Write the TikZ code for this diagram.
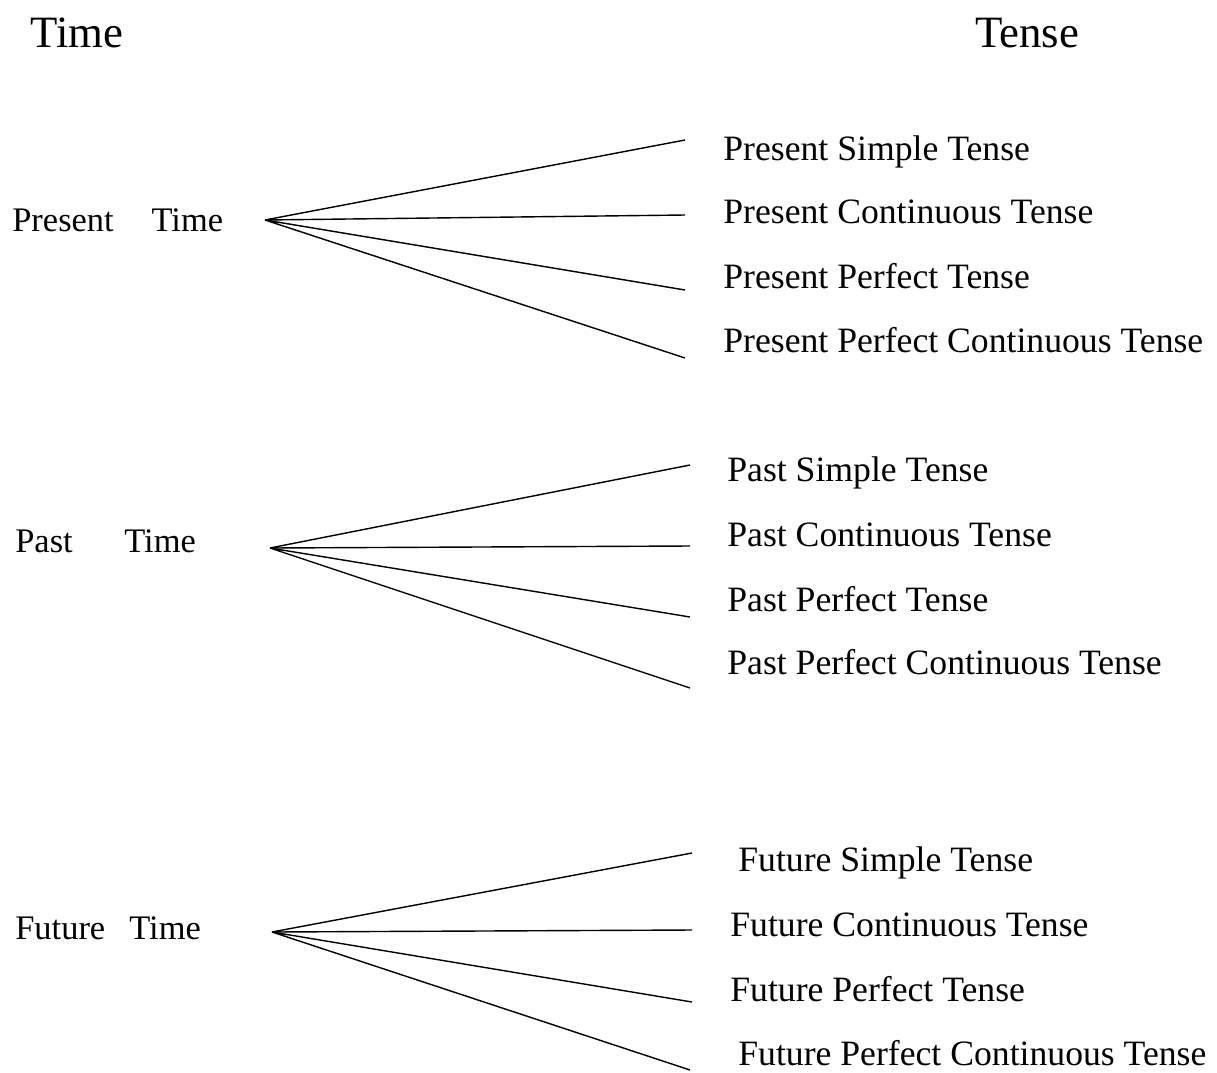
\documentclass[tikz,border=0pt]{standalone}
\usepackage{fontspec}
\setmainfont{Liberation Serif}
\usetikzlibrary{calc}

\begin{document}
\begin{tikzpicture}[x=0.02cm,y=-0.02cm,
    head/.style={anchor=west,inner sep=0pt,font=\fontsize{25.5}{30}\selectfont,
      text height=0.94em,text depth=0pt,yshift=-0.12cm},
    timelbl/.style={anchor=west,inner sep=0pt,font=\fontsize{19.6}{23}\selectfont,
      text height=0.9em,text depth=0pt,yshift=-0.09cm},
    tenselbl/.style={anchor=west,inner sep=0pt,font=\fontsize{20.3}{24}\selectfont,
      text height=0.9em,text depth=0pt,yshift=-0.09cm},
    branch/.style={draw=black,line width=0.8pt}]

    \useasboundingbox (0,0) rectangle (1217,1072);

    \node[head] (htime) at (30,33) {Time};
    \node[head] (htense) at (975,33) {Tense};

    % present
    \node[timelbl] (present) at (12,219) {Present\hspace{1.1em}Time};
    \coordinate (rpresent) at (265,220);
    \coordinate (e1) at (685,140);
    \coordinate (e2) at (685,215);
    \coordinate (e3) at (685,290);
    \coordinate (e4) at (685,358);
    \node[tenselbl] (pr1) at (723,148) {Present Simple Tense};
    \node[tenselbl] (pr2) at (723,211) {Present Continuous Tense};
    \node[tenselbl] (pr3) at (723,276) {Present Perfect Tense};
    \node[tenselbl] (pr4) at (723,340) {Present Perfect Continuous Tense};
    \draw[branch] (e1) -- (rpresent) -- (e2);
    \draw[branch] (e3) -- (rpresent) -- (e4);

    % past
    \node[timelbl] (past) at (15,540) {Past\hspace{1.5em}Time};
    \coordinate (rpast) at (270,548);
    \coordinate (f1) at (690,465);
    \coordinate (f2) at (690,546);
    \coordinate (f3) at (690,617);
    \coordinate (f4) at (690,688);
    \node[tenselbl] (pa1) at (727,469) {Past Simple Tense};
    \node[tenselbl] (pa2) at (727,534) {Past Continuous Tense};
    \node[tenselbl] (pa3) at (727,599) {Past Perfect Tense};
    \node[tenselbl] (pa4) at (727,662) {Past Perfect Continuous Tense};
    \draw[branch] (f1) -- (rpast) -- (f2);
    \draw[branch] (f3) -- (rpast) -- (f4);

    % future
    \node[timelbl] (future) at (15,927) {Future\hspace{0.7em}Time};
    \coordinate (rfuture) at (272,932);
    \coordinate (g1) at (692,853);
    \coordinate (g2) at (692,930);
    \coordinate (g3) at (692,1002);
    \coordinate (g4) at (690,1070);
    \node[tenselbl] (fu1) at (738,859) {Future Simple Tense};
    \node[tenselbl] (fu2) at (730,924) {Future Continuous Tense};
    \node[tenselbl] (fu3) at (730,989) {Future Perfect Tense};
    \node[tenselbl] (fu4) at (738,1053) {Future Perfect Continuous Tense};
    \draw[branch] (g1) -- (rfuture) -- (g2);
    \draw[branch] (g3) -- (rfuture) -- (g4);
\end{tikzpicture}
\end{document}
